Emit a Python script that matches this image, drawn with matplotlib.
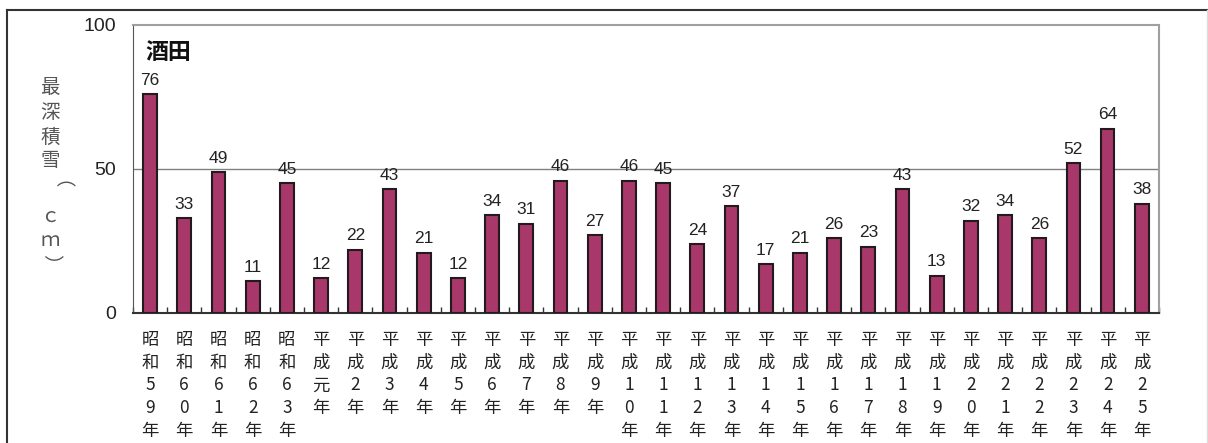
import numpy as np
import matplotlib.pyplot as plt
from matplotlib.lines import Line2D

plt.rcParams['font.family'] = ['Noto Sans CJK JP', 'DejaVu Sans']

# 年 (縦書きラベル用)
years = ['昭和59年', '昭和60年', '昭和61年', '昭和62年', '昭和63年',
         '平成元年', '平成2年', '平成3年', '平成4年', '平成5年',
         '平成6年', '平成7年', '平成8年', '平成9年', '平成10年',
         '平成11年', '平成12年', '平成13年', '平成14年', '平成15年',
         '平成16年', '平成17年', '平成18年', '平成19年', '平成20年',
         '平成21年', '平成22年', '平成23年', '平成24年', '平成25年']
snow = [76, 33, 49, 11, 45, 12, 22, 43, 21, 12,
        34, 31, 46, 27, 46, 45, 24, 37, 17, 21,
        26, 23, 43, 13, 32, 34, 26, 52, 64, 38]
yticks = [0, 50, 100]
ylabel_chars = ['最', '深', '積', '雪', '（', 'ｃ', 'ｍ', '）']

num_font = ['Liberation Sans', 'DejaVu Sans']

fig = plt.figure(figsize=(12.08, 4.43), dpi=100)
ax = fig.add_axes([0.1101, 0.2935, 0.8493, 0.6501])

x = np.arange(len(years))
ax.bar(x, snow, width=0.4, color='#A8386A', edgecolor='#231a1e', linewidth=1.5, zorder=3)
for xi, v in zip(x, snow):
    ax.text(xi, v + 2.2, str(v), ha='center', va='bottom', fontsize=12.5,
            family=num_font, color='#222222')

ax.set_xlim(-0.5, len(years) - 0.5)
ax.set_ylim(0, 100)
ax.set_yticks(yticks)
ax.set_yticklabels([str(t) for t in yticks], fontsize=14, family=num_font, color='#222222')
ax.tick_params(axis='y', length=0, pad=12)
ax.axhline(50, color='#808080', linewidth=1, zorder=1)

# x tick marks between categories, labels stacked vertically
ax.set_xticks(np.arange(len(years) + 1) - 0.5, minor=True)
ax.set_xticks(x)
ax.set_xticklabels(['\n'.join(y) for y in years], fontsize=12.5, color='#222222',
                   linespacing=1.33, va='top')
ax.tick_params(axis='x', which='major', length=0, pad=13)
ax.tick_params(axis='x', which='minor', direction='in', length=4, width=1, color='#333333')

for s in ['top', 'right']:
    ax.spines[s].set_color('#a0a0a0')
    ax.spines[s].set_linewidth(1.5)
ax.spines['left'].set_color('#555555')
ax.spines['bottom'].set_color('#333333')
ax.spines['bottom'].set_linewidth(1.5)

ax.text(0.012, 0.945, '酒田', transform=ax.transAxes, fontsize=16.5, fontweight='bold',
        ha='left', va='top', color='#111111')

# vertical y label, one character per line
ypix = [88, 112, 137, 161, 190, 216, 240, 264]
for ch, yp in zip(ylabel_chars, ypix):
    rot = -90 if ch in '（）' else 0
    fig.text(50 / 1208, 1 - yp / 443, ch, ha='center', va='center', rotation=rot,
             fontsize=14, color='#555555')

# outer frame
fig.add_artist(Line2D([7 / 1208, 7 / 1208], [0, 1 - 10 / 443], transform=fig.transFigure,
                      color='#333333', linewidth=1.5))
fig.add_artist(Line2D([7 / 1208, 1], [1 - 10 / 443, 1 - 10 / 443], transform=fig.transFigure,
                      color='#333333', linewidth=1.5))
fig.add_artist(Line2D([1207 / 1208, 1207 / 1208], [0, 1 - 10 / 443], transform=fig.transFigure,
                      color='#dddddd', linewidth=1))

fig.savefig('out.png', dpi=100)
